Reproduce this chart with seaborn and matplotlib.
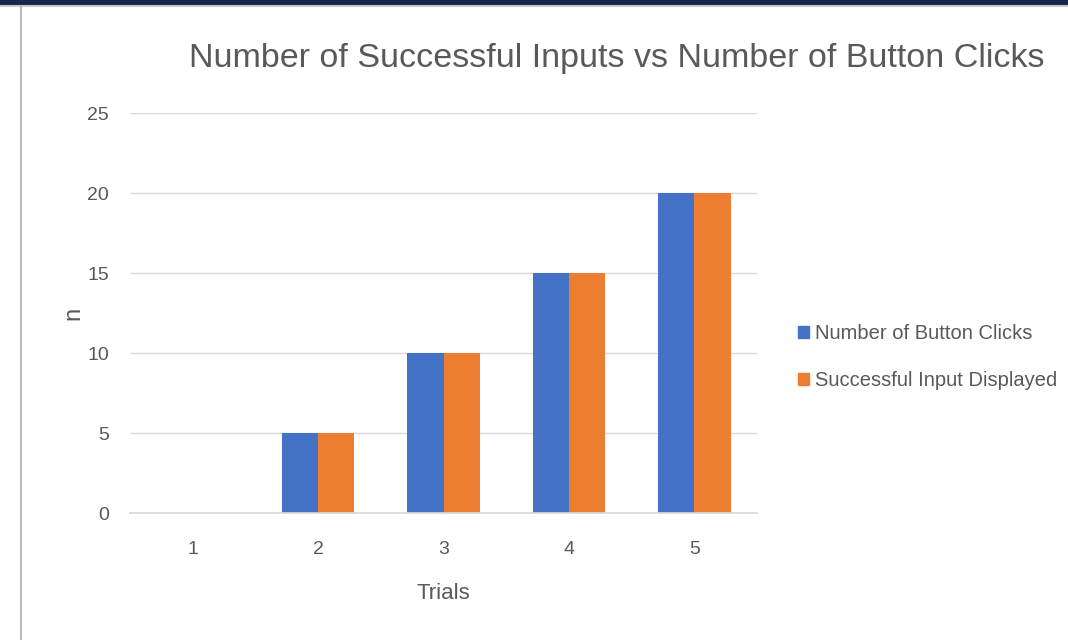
import pandas as pd
import matplotlib.pyplot as plt
import seaborn as sns
from matplotlib.patches import Rectangle
from matplotlib.lines import Line2D

trials = [1, 2, 3, 4, 5]
button_clicks = [0, 5, 10, 15, 20]
successful_inputs = [0, 5, 10, 15, 20]
series_names = ["Number of Button Clicks", "Successful Input Displayed"]
y_ticks = [0, 5, 10, 15, 20, 25]

df = pd.DataFrame({
    "Trials": trials * 2,
    "n": button_clicks + successful_inputs,
    "Series": [series_names[0]] * len(trials) + [series_names[1]] * len(trials),
})

sns.set_theme(style="white")
plt.rcParams["font.family"] = ["Liberation Sans", "DejaVu Sans"]

fig = plt.figure(figsize=(10.68, 6.4), dpi=100)
fig.patch.set_facecolor("white")

# screenshot frame: navy strip on top, grey card edge on the left
fig.add_artist(Rectangle((0, 1 - 5 / 640), 1, 5 / 640, transform=fig.transFigure,
                         color="#14284b", zorder=0))
fig.add_artist(Line2D([0, 1], [1 - 6 / 640] * 2, transform=fig.transFigure,
                      color="#c8c8c8", lw=1.5))
fig.add_artist(Line2D([21 / 1068] * 2, [0, 1 - 6 / 640], transform=fig.transFigure,
                      color="#bdbdbd", lw=1.5))

ax = fig.add_axes([130 / 1068, 1 - 513 / 640, 627 / 1068, 400 / 640])
palette = {series_names[0]: "#4472C4", series_names[1]: "#ED7D31"}
sns.barplot(data=df, x="Trials", y="n", hue="Series", palette=palette,
            width=0.58, gap=0, saturation=1, linewidth=0, ax=ax, legend=False)

ax.set_ylim(0, 25)
ax.set_yticks(y_ticks)
ax.grid(axis="y", color="#d9d9d9", lw=1)
ax.set_axisbelow(True)
for s in ["top", "right", "left"]:
    ax.spines[s].set_visible(False)
ax.spines["bottom"].set_color("#d9d9d9")
ax.tick_params(axis="y", length=0, labelsize=14, labelcolor="#595959", pad=15)
ax.tick_params(axis="x", length=0, labelsize=14, labelcolor="#595959", pad=20)
ax.set_xlabel("Trials", fontsize=16, color="#595959", labelpad=18)
ax.set_ylabel("n", fontsize=17, color="#595959", labelpad=2)

fig.text(617 / 1068, 1 - 58 / 640, "Number of Successful Inputs vs Number of Button Clicks",
         ha="center", va="center", fontsize=24.5, color="#595959")

handles = [Rectangle((0, 0), 1, 1, color=palette[s]) for s in series_names]
fig.legend(handles, series_names, loc="center left",
           bbox_to_anchor=(780 / 1068, 1 - 357 / 640), frameon=False,
           fontsize=14.5, labelcolor="#595959", handlelength=0.55, handleheight=0.55,
           handletextpad=0.3, labelspacing=1.4)

fig.savefig("out.png", dpi=100)
